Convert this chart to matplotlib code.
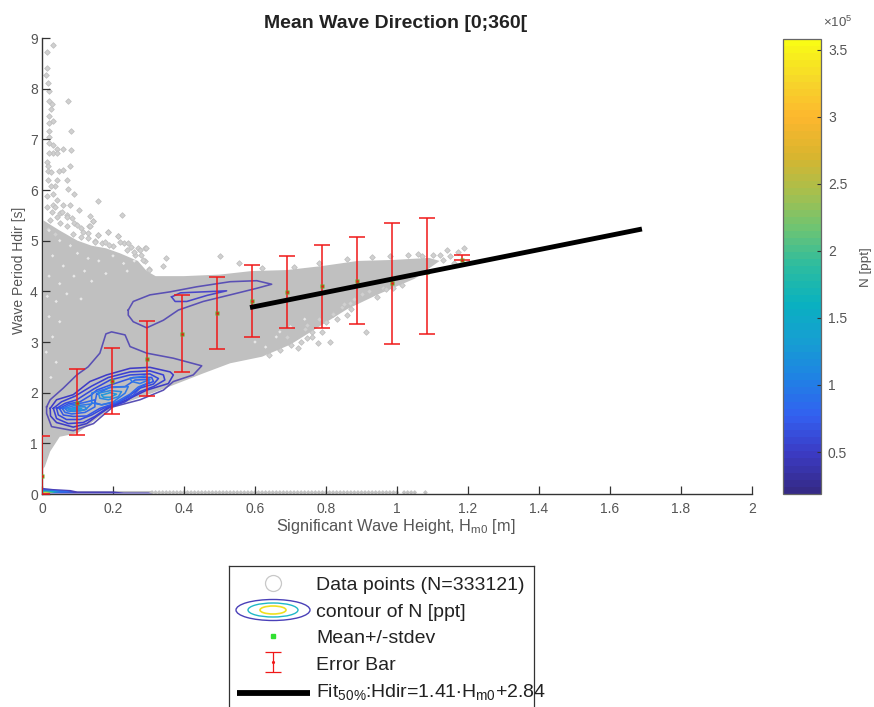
import numpy as np
import matplotlib
matplotlib.use('Agg')
import matplotlib.pyplot as plt
from matplotlib.colors import LinearSegmentedColormap, Normalize
from matplotlib.cm import ScalarMappable
from matplotlib.patches import Ellipse

plt.rcParams['font.family'] = ['Liberation Sans', 'DejaVu Sans']
plt.rcParams['mathtext.fontset'] = 'custom'
plt.rcParams['mathtext.rm'] = 'Liberation Sans'
plt.rcParams['mathtext.it'] = 'Liberation Sans'
plt.rcParams['mathtext.default'] = 'regular'

# dense part of the cloud, outline
cloud_x = [0.004, 0.05, 0.10, 0.14, 0.18, 0.22, 0.27, 0.295, 0.32, 0.40, 0.50, 0.59, 0.69, 0.79,
           0.89, 0.99, 1.09, 1.12, 1.05, 0.95, 0.86, 0.78, 0.70, 0.62, 0.53, 0.454, 0.37, 0.295, 0.20,
           0.10, 0.05, 0.023, 0.008, 0.004]
cloud_y = [5.4, 5.2, 5.0, 4.9, 4.85, 4.75, 4.6, 4.4, 4.3, 4.3, 4.33, 4.4, 4.42, 4.5,
           4.6, 4.62, 4.66, 4.6, 4.25, 3.95, 3.65, 3.3, 2.95, 2.71, 2.58, 2.38, 2.15, 1.95, 1.72,
           1.2, 1.13, 0.84, 0.54, 0.5]

# single points outside the dense part
point_x = [0.030, 0.013, 0.015, 0.011, 0.016, 0.02, 0.02, 0.074, 0.028, 0.025, 0.019, 0.03, 0.02, 0.082,
           0.019, 0.02, 0.019, 0.03, 0.059, 0.082, 0.043, 0.03, 0.019, 0.041, 0.015, 0.079, 0.018, 0.018,
           0.025, 0.049, 0.06, 0.07, 0.041, 0.018, 0.074, 0.038, 0.024, 0.09, 0.013, 0.032, 0.041, 0.159,
           0.079, 0.105, 0.06, 0.225, 0.135, 0.145, 0.186, 0.159, 0.215, 0.133, 0.289, 0.348, 0.34, 0.5,
           0.03, 0.05, 0.07, 0.09, 0.11, 0.13, 0.15, 0.17, 0.2, 0.23, 0.25, 0.27, 0.28, 0.29, 0.3,
           0.013, 0.037, 0.027, 0.055, 0.041, 0.07, 0.022, 0.084, 0.051, 0.098, 0.018, 0.07, 0.116, 0.135,
           0.145, 0.088, 0.159, 0.187, 0.037, 0.13, 0.215, 0.22, 0.243, 0.178, 0.276, 0.293, 0.262, 0.285,
           0.3, 0.11, 0.15, 0.19, 0.24, 0.26,
           0.746, 0.778, 0.811, 0.72, 0.914, 0.86, 0.844, 0.82, 0.868, 0.943, 0.96, 0.99, 1.014, 0.746,
           0.76, 0.80, 0.83, 0.88, 0.90, 0.555, 1.14, 1.19, 1.12, 1.172, 1.15, 1.10, 1.07, 1.13, 1.16,
           0.64, 0.67, 0.70, 0.73, 0.76, 0.79, 0.69, 0.74, 0.78, 0.82, 0.85, 0.87, 0.92, 0.97, 1.03,
           0.62, 0.71, 0.78, 0.86, 0.93, 0.98, 1.03, 1.06]
point_y = [8.86, 8.73, 8.41, 8.27, 8.12, 7.95, 7.76, 7.76, 7.69, 7.59, 7.47, 7.37, 7.32, 7.16,
           7.16, 7.05, 6.92, 6.89, 6.81, 6.78, 6.8, 6.73, 6.73, 6.73, 6.56, 6.48, 6.47, 6.37,
           6.35, 6.37, 6.4, 6.2, 6.2, 6.2, 6.02, 6.07, 6.07, 5.92, 5.88, 5.93, 5.81, 5.78,
           5.7, 5.6, 5.7, 5.51, 5.49, 5.38, 5.18, 5.12, 5.1, 5.28, 4.85, 4.66, 4.5, 4.7,
           5.7, 5.55, 5.5, 5.35, 5.25, 5.15, 5.0, 4.95, 4.9, 4.95, 4.88, 4.85, 4.72, 4.6, 4.45,
           5.67, 5.67, 5.57, 5.57, 5.47, 5.47, 5.41, 5.44, 5.34, 5.31, 5.24, 5.28, 5.18, 5.28,
           5.38, 5.14, 5.11, 5.18, 5.14, 5.05, 5.1, 4.98, 4.95, 4.98, 4.82, 4.85, 4.72, 4.62,
           4.42, 5.08, 4.98, 4.92, 4.82, 4.78,
           3.07, 2.98, 3.0, 2.88, 3.2, 3.53, 3.7, 3.57, 3.76, 3.89, 4.06, 4.06, 4.12, 3.33,
           3.2, 3.4, 3.45, 3.85, 3.95, 4.56, 4.81, 4.85, 4.72, 4.78, 4.7, 4.72, 4.7, 4.62, 4.55,
           2.75, 2.85, 2.95, 3.0, 3.1, 3.2, 3.1, 3.25, 3.45, 3.55, 3.75, 3.65, 4.0, 4.05, 4.3,
           4.46, 4.48, 4.55, 4.64, 4.68, 4.7, 4.72, 4.74]

# pale gaps inside the cloud
gap_x = [0.02, 0.05, 0.08, 0.03, 0.10, 0.13, 0.06, 0.16, 0.20, 0.23, 0.26, 0.02, 0.05, 0.09, 0.12, 0.015,
         0.04, 0.07, 0.02, 0.05, 0.03, 0.012, 0.04, 0.025, 0.18, 0.14, 0.24, 0.11, 0.60, 0.66, 0.63, 0.70,
         0.74, 0.67]
gap_y = [5.2, 5.0, 4.9, 4.7, 4.75, 4.65, 4.5, 4.6, 4.7, 4.55, 4.6, 4.3, 4.15, 4.3, 4.4, 3.9,
         3.8, 3.95, 3.5, 3.4, 3.1, 2.8, 2.6, 2.3, 4.35, 4.2, 4.4, 3.85, 3.0, 3.1, 2.9, 3.3,
         3.45, 3.2]

# the row of points on the x axis
row_x = [0.31, 0.32, 0.33, 0.34, 0.35, 0.36, 0.37, 0.38, 0.39, 0.40, 0.41, 0.42, 0.43, 0.44, 0.45, 0.46,
         0.47, 0.48, 0.49, 0.50, 0.51, 0.52, 0.53, 0.54, 0.55, 0.56, 0.57, 0.58, 0.59, 0.60, 0.61, 0.62,
         0.63, 0.64, 0.65, 0.66, 0.67, 0.68, 0.69, 0.70, 0.71, 0.72, 0.73, 0.74, 0.75, 0.76, 0.77, 0.78,
         0.79, 0.80, 0.81, 0.82, 0.83, 0.84, 0.85, 0.86, 0.87, 0.88, 0.89, 0.90, 0.91, 0.92, 0.93, 0.94,
         0.95, 0.96, 0.97, 0.98, 0.99, 1.0, 1.02, 1.03, 1.04, 1.05, 1.08]
row_y = [0.03] * len(row_x)

# main contours
c1_x = [0.013, 0.023, 0.06, 0.098, 0.13, 0.163, 0.18, 0.196, 0.234, 0.248, 0.295, 0.37, 0.45, 0.426, 0.37,
        0.342, 0.276, 0.20, 0.168, 0.145, 0.088, 0.027, 0.013, 0.013]
c1_y = [1.72, 1.86, 2.09, 2.35, 2.51, 2.78, 3.16, 3.20, 3.14, 2.91, 2.78, 2.68, 2.53, 2.35, 2.22,
        2.05, 1.86, 1.72, 1.53, 1.39, 1.25, 1.33, 1.59, 1.72]
c2_x = [0.243, 0.257, 0.304, 0.361, 0.436, 0.53, 0.605, 0.647, 0.605, 0.53, 0.454, 0.384, 0.342, 0.295, 0.257, 0.243, 0.243]
c2_y = [3.63, 3.80, 3.93, 3.99, 4.09, 4.19, 4.21, 4.14, 4.06, 3.93, 3.80, 3.63, 3.43, 3.28, 3.40, 3.53, 3.63]
c3_x = [0.365, 0.39, 0.52, 0.465, 0.408, 0.375, 0.365]
c3_y = [3.89, 3.97, 4.01, 3.92, 3.80, 3.80, 3.89]
c4_x = [0.023, 0.041, 0.088, 0.135, 0.182, 0.248, 0.304, 0.361, 0.37, 0.356, 0.295, 0.239, 0.192, 0.159, 0.126, 0.088, 0.041, 0.024, 0.023]
c4_y = [1.69, 1.86, 1.96, 2.22, 2.35, 2.48, 2.5, 2.41, 2.35, 2.18, 2.05, 1.86, 1.72, 1.56, 1.39, 1.32, 1.41, 1.54, 1.69]
c5_x = [0.032, 0.055, 0.093, 0.14, 0.187, 0.248, 0.304, 0.342, 0.346, 0.314, 0.276, 0.234, 0.182, 0.149, 0.116, 0.074, 0.041, 0.032]
c5_y = [1.69, 1.82, 1.93, 2.13, 2.3, 2.41, 2.43, 2.35, 2.25, 2.12, 2.02, 1.82, 1.69, 1.53, 1.41, 1.39, 1.49, 1.69]
c6_x = [0.041, 0.065, 0.098, 0.145, 0.192, 0.248, 0.304, 0.328, 0.314, 0.276, 0.22, 0.173, 0.14, 0.107, 0.069, 0.046, 0.041]
c6_y = [1.69, 1.79, 1.86, 2.07, 2.25, 2.35, 2.37, 2.28, 2.17, 2.09, 1.82, 1.69, 1.56, 1.47, 1.47, 1.56, 1.69]
c7_x = [0.049, 0.074, 0.107, 0.14, 0.154, 0.192, 0.257, 0.309, 0.314, 0.281, 0.257, 0.21, 0.163, 0.126, 0.088, 0.06, 0.049]
c7_y = [1.69, 1.78, 1.82, 1.96, 2.05, 2.15, 2.3, 2.3, 2.22, 2.13, 1.95, 1.8, 1.69, 1.54, 1.53, 1.56, 1.69]
c8_x = [0.057, 0.079, 0.116, 0.149, 0.149, 0.121, 0.084, 0.065, 0.057]
c8_y = [1.69, 1.76, 1.8, 1.86, 1.72, 1.61, 1.58, 1.61, 1.69]
c9_x = [0.154, 0.192, 0.234, 0.262, 0.3, 0.302, 0.271, 0.248, 0.21, 0.168, 0.149, 0.154]
c9_y = [1.97, 2.11, 2.12, 2.25, 2.26, 2.2, 2.11, 1.97, 1.82, 1.76, 1.8, 1.97]
c10_x = [0.065, 0.088, 0.121, 0.14, 0.121, 0.088, 0.071, 0.065]
c10_y = [1.69, 1.74, 1.76, 1.78, 1.66, 1.63, 1.64, 1.69]
c11_x = [0.14, 0.14, 0.192, 0.243, 0.234, 0.201, 0.168, 0.14]
c11_y = [1.8, 1.99, 2.1, 2.12, 1.99, 1.82, 1.76, 1.8]
c12_x = [0.248, 0.29, 0.304, 0.276, 0.253, 0.248]
c12_y = [2.28, 2.33, 2.26, 2.18, 2.22, 2.28]
c13_x = [0.074, 0.098, 0.121, 0.126, 0.107, 0.084, 0.074]
c13_y = [1.68, 1.72, 1.72, 1.68, 1.64, 1.64, 1.68]
c14_x = [0.159, 0.192, 0.224, 0.215, 0.187, 0.163, 0.159]
c14_y = [1.99, 2.04, 2.02, 1.92, 1.86, 1.89, 1.99]
c15_x = [0.084, 0.102, 0.112, 0.098, 0.084]
c15_y = [1.67, 1.7, 1.68, 1.66, 1.67]
c16_x = [0.168, 0.192, 0.21, 0.192, 0.173, 0.168]
c16_y = [1.95, 2.0, 1.97, 1.91, 1.91, 1.95]

# contours squeezed on the x axis
b1_x = [0.003, 0.03, 0.08, 0.10, 0.20, 0.23, 0.30, 0.31, 0.20, 0.10, 0.003]
b1_y = [0.12, 0.10, 0.08, 0.05, 0.05, 0.03, 0.03, 0.01, 0.01, 0.01, 0.01]
b2_x = [0.003, 0.03, 0.07, 0.09, 0.05, 0.003]
b2_y = [0.09, 0.08, 0.06, 0.03, 0.02, 0.02]
b3_x = [0.003, 0.03, 0.05, 0.03, 0.003]
b3_y = [0.07, 0.06, 0.04, 0.025, 0.025]
b4_x = [0.004, 0.02, 0.035, 0.02, 0.004]
b4_y = [0.05, 0.045, 0.03, 0.02, 0.02]
b5_x = [0.005, 0.015, 0.02, 0.01, 0.005]
b5_y = [0.035, 0.03, 0.02, 0.015, 0.015]

# mean and stdev per Hm0 bin
bin_x = [0.0, 0.098, 0.197, 0.296, 0.394, 0.493, 0.592, 0.69, 0.79, 0.887, 0.986, 1.085, 1.183]
bin_mean = [0.355, 1.80, 2.24, 2.66, 3.16, 3.57, 3.80, 3.99, 4.11, 4.21, 4.17, 4.39, 4.62]
bin_top = [1.14, 2.47, 2.89, 3.41, 3.93, 4.28, 4.51, 4.69, 4.92, 5.07, 5.35, 5.45, 4.72]
bin_low = [0.0, 1.17, 1.58, 1.93, 2.41, 2.86, 3.09, 3.28, 3.28, 3.36, 2.96, 3.16, 4.62]

fit_x = [0.586, 1.69]
fit_y = [3.68, 5.23]

x_ticks = [0, 0.2, 0.4, 0.6, 0.8, 1, 1.2, 1.4, 1.6, 1.8, 2]
x_labels = ['0', '0.2', '0.4', '0.6', '0.8', '1', '1.2', '1.4', '1.6', '1.8', '2']
y_ticks = [0, 1, 2, 3, 4, 5, 6, 7, 8, 9]
cbar_ticks = [0.5e5, 1e5, 1.5e5, 2e5, 2.5e5, 3e5, 3.5e5]
cbar_labels = ['0.5', '1', '1.5', '2', '2.5', '3', '3.5']

W, H = 874, 707
TXT = '#555555'

parula = LinearSegmentedColormap.from_list('parula', [
    '#352a87', '#3b3bc4', '#3360f0', '#1f82e4', '#169ed2', '#09b1c0', '#2cbca0', '#6cc474',
    '#a8bf4c', '#dab52e', '#fdb72e', '#f6d72a', '#f9fb15'], N=64)

fig = plt.figure(figsize=(W / 100, H / 100), dpi=100)
ax = fig.add_axes([42 / W, (H - 494) / H, 710 / W, 456 / H])

ax.fill(cloud_x, cloud_y, color='#c0c0c0', lw=0, zorder=1)
ax.scatter(point_x, point_y, marker='D', s=8, fc='#d0d0d0', ec='#c0c0c0', lw=0.6, zorder=2)
ax.scatter(gap_x, gap_y, marker='D', s=3, fc='#e8e8e8', ec='none', zorder=2)
ax.scatter(row_x, row_y, marker='D', s=6, fc='#c4c4c4', ec='none', zorder=2, clip_on=False)
ax.plot([0, 0.31], [0.03, 0.03], color='#c0c0c0', lw=1.5, zorder=2)

outer = '#5a50b4'
for cx, cy, col in [(c1_x, c1_y, outer), (c2_x, c2_y, outer), (c3_x, c3_y, '#4a46c8'),
                    (c4_x, c4_y, '#3f3cc6'), (c5_x, c5_y, '#3a40d4'), (c6_x, c6_y, '#3648dc'),
                    (c7_x, c7_y, '#3355e6'), (c8_x, c8_y, '#3166ea'), (c9_x, c9_y, '#3166ea'),
                    (c10_x, c10_y, '#2f78e8'), (c11_x, c11_y, '#2f78e8'), (c12_x, c12_y, '#2f78e8'),
                    (c13_x, c13_y, '#2c88e2'), (c14_x, c14_y, '#2c88e2'),
                    (c15_x, c15_y, '#2498dc'), (c16_x, c16_y, '#2498dc')]:
    ax.plot(cx, cy, color=col, lw=1.15, zorder=3)

for cx, cy, col in [(b1_x, b1_y, '#4a40b8'), (b2_x, b2_y, '#2f6ae8'), (b3_x, b3_y, '#12b0c0'),
                    (b4_x, b4_y, '#7cc468'), (b5_x, b5_y, '#f6d72a')]:
    ax.fill(cx, cy, color=col, lw=0, zorder=3)

mean = np.array(bin_mean)
err = [mean - np.array(bin_low), np.array(bin_top) - mean]
ax.errorbar(bin_x, bin_mean, yerr=err, fmt='none', ecolor='#f01818', elinewidth=1.1, capsize=5.8,
            capthick=1.1, zorder=4)
ax.plot(bin_x, bin_mean, ls='none', marker='s', ms=3.4, mfc='#62a820', mec='none', zorder=5)
ax.plot(bin_x, bin_mean, ls='none', marker='.', ms=1.8, color='#f01818', zorder=6)
ax.plot(fit_x, fit_y, color='black', lw=3.5, solid_capstyle='butt', zorder=7)

ax.set_xlim(0, 2)
ax.set_ylim(0, 9)
ax.set_xticks(x_ticks, x_labels)
ax.set_yticks(y_ticks)
ax.tick_params(direction='in', length=5.5, width=0.9, color='#333333', labelcolor=TXT, labelsize=10)
ax.tick_params(axis='x', pad=5.5)
ax.tick_params(axis='y', pad=3)
ax.spines['top'].set_visible(False)
ax.spines['right'].set_visible(False)
ax.spines['left'].set_color('#333333')
ax.spines['bottom'].set_color('#333333')
ax.spines['left'].set_linewidth(1.0)
ax.spines['bottom'].set_linewidth(1.0)
ax.set_axisbelow(False)

fig.text(396 / W, 1 - 23 / H, 'Mean Wave Direction [0;360[', ha='center', va='center', fontsize=14,
         fontweight='bold', color='#222222')
fig.text(396 / W, 1 - 527 / H, 'Significant Wave Height, H$_{m0}$ [m]', ha='center', va='center',
         fontsize=11.8, color=TXT)
fig.text(19 / W, 1 - 270 / H, 'Wave Period Hdir [s]', ha='center', va='center', rotation=90,
         fontsize=10, color=TXT)

# colour bar
cax = fig.add_axes([783 / W, (H - 494) / H, 38 / W, 455 / H])
cb = fig.colorbar(ScalarMappable(Normalize(0.187e5, 3.58e5), parula), cax=cax)
cb.set_ticks(cbar_ticks, labels=cbar_labels)
cb.ax.tick_params(direction='in', length=3, width=0.8, color='#333333', labelcolor=TXT, labelsize=10, pad=5)
cb.outline.set_edgecolor('#666666')
cb.outline.set_linewidth(0.9)
fig.text(838 / W, 1 - 22 / H, r'$\times$10$^{5}$', ha='center', va='center', fontsize=9.5, color=TXT)
fig.text(866 / W, 1 - 267 / H, 'N [ppt]', ha='center', va='center', rotation=90, fontsize=9.7, color=TXT)

# legend box runs off the bottom of the figure
lax = fig.add_axes([229 / W, -3 / H, 305 / W, 144 / H])
lax.set_xlim(229, 534)
lax.set_ylim(710, 566)
lax.set_xticks([])
lax.set_yticks([])
for s in lax.spines.values():
    s.set_color('#333333')
    s.set_linewidth(0.9)
lax.plot([273], [583], marker='o', ms=11.5, mfc='white', mec='#c8c8c8', mew=0.9, ls='none')
lax.add_patch(Ellipse((273, 610), 74, 21, fc='none', ec='#4a40b8', lw=1))
lax.add_patch(Ellipse((273, 610), 50, 14, fc='none', ec='#20b8c8', lw=1))
lax.add_patch(Ellipse((273, 610), 26, 8, fc='none', ec='#f0e020', lw=1.2))
lax.plot([273], [636], marker='s', ms=2.5, color='#30e030', ls='none')
lax.errorbar([273], [662], yerr=[[10], [10]], fmt='none', ecolor='#f01818', elinewidth=0.9, capsize=5.8, capthick=0.9)
lax.plot([273], [662], marker='.', ms=2.5, color='#f01818', ls='none')
lax.plot([237, 310], [693, 693], color='black', lw=4.2, solid_capstyle='butt')
legend_rows = [(590, 'Data points (N=333121)'), (617, 'contour of N [ppt]'), (643, 'Mean+/-stdev'),
               (670, 'Error Bar'), (697, r'Fit$_{50\%}$:Hdir=1.41$\cdot$H$_{m0}$+2.84')]
for ypos, label in legend_rows:
    lax.text(316, ypos, label, ha='left', va='baseline', fontsize=14, color='#222222')

fig.savefig('out.png', dpi=100)
